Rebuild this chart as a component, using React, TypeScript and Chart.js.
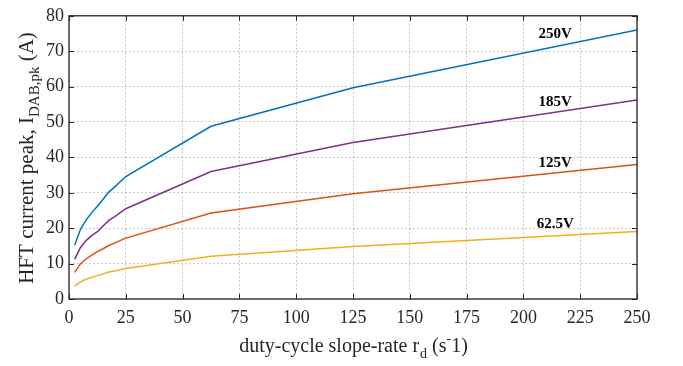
import React, { useEffect, useRef } from "react";
import { Chart, registerables } from "chart.js";

Chart.register(...registerables);

const slopeRates = [2.5, 5, 7.5, 10, 12.5, 15, 17.5, 20, 25, 62.5, 125, 250];
const peak250V = [15.2, 19.6, 22.3, 24.4, 26.2, 28.2, 30.2, 31.6, 34.6, 48.8, 59.7, 76.0];
const peak185V = [11.2, 14.5, 16.5, 17.9, 19.0, 20.6, 22.2, 23.2, 25.5, 36.0, 44.2, 56.2];
const peak125V = [7.5, 9.9, 11.3, 12.4, 13.4, 14.2, 15.1, 15.8, 17.2, 24.3, 29.7, 38.0];
const peak62V = [3.7, 4.8, 5.6, 6.1, 6.6, 7.1, 7.6, 7.9, 8.6, 12.1, 14.8, 19.1];

const seriesNames = ["250V", "185V", "125V", "62.5V"];
const seriesColors = ["#0072BD", "#7E2F8E", "#D95319", "#EDB120"];
const labelX = [214, 214, 214, 214];
const labelY = [74.8, 55.7, 38.5, 21.1];

const FONT = "'Liberation Serif', 'Times New Roman', serif";
const AXIS_COLOR = "#262626";

const decorPlugin = {
  id: "decor",
  afterDraw(chart: any) {
    const { ctx, chartArea } = chart;
    const xs = chart.scales.x;
    const ys = chart.scales.y;
    const { left, right, top, bottom } = chartArea;
    ctx.save();
    // box
    ctx.strokeStyle = AXIS_COLOR;
    ctx.lineWidth = 1.3;
    ctx.strokeRect(left, top, right - left, bottom - top);
    // inward ticks
    ctx.lineWidth = 1;
    const tl = 5;
    for (let v = 0; v <= 250; v += 25) {
      const px = Math.round(xs.getPixelForValue(v)) + 0.5;
      ctx.beginPath();
      ctx.moveTo(px, bottom);
      ctx.lineTo(px, bottom - tl);
      ctx.moveTo(px, top);
      ctx.lineTo(px, top + tl);
      ctx.stroke();
    }
    for (let v = 0; v <= 80; v += 10) {
      const py = Math.round(ys.getPixelForValue(v)) + 0.5;
      ctx.beginPath();
      ctx.moveTo(left, py);
      ctx.lineTo(left + tl, py);
      ctx.moveTo(right, py);
      ctx.lineTo(right - tl, py);
      ctx.stroke();
    }
    // series labels
    ctx.fillStyle = "#000";
    ctx.font = `bold 15px ${FONT}`;
    ctx.textAlign = "center";
    ctx.textBaseline = "middle";
    seriesNames.forEach((n, i) => {
      ctx.fillText(n, xs.getPixelForValue(labelX[i]), ys.getPixelForValue(labelY[i]));
    });
    // x title
    ctx.fillStyle = AXIS_COLOR;
    ctx.textAlign = "left";
    ctx.textBaseline = "alphabetic";
    const xMain = "duty-cycle slope-rate r";
    const big = `20px ${FONT}`;
    const small = `14px ${FONT}`;
    ctx.font = big;
    const w1 = ctx.measureText(xMain).width;
    ctx.font = small;
    const wSub = ctx.measureText("d").width;
    ctx.font = big;
    const w2 = ctx.measureText(" (s").width;
    ctx.font = small;
    const wSup = ctx.measureText("-").width;
    ctx.font = big;
    const w3 = ctx.measureText("1)").width;
    const total = w1 + wSub + w2 + wSup + w3;
    const cx = (left + right) / 2;
    let x0 = cx - total / 2;
    const base = 352;
    ctx.font = big;
    ctx.fillText(xMain, x0, base);
    x0 += w1;
    ctx.font = small;
    ctx.fillText("d", x0 + 1, base + 6);
    x0 += wSub + 1;
    ctx.font = big;
    ctx.fillText(" (s", x0, base);
    x0 += w2;
    ctx.font = small;
    ctx.fillText("-", x0, base - 9);
    x0 += wSup;
    ctx.font = big;
    ctx.fillText("1)", x0, base);
    // y title
    ctx.save();
    const bigY = `21px ${FONT}`;
    const smallY = `15px ${FONT}`;
    ctx.translate(33, 158);
    ctx.rotate(-Math.PI / 2);
    const yMain = "HFT current peak, I";
    const ySub = "DAB,pk";
    const yEnd = " (A)";
    ctx.font = bigY;
    const a1 = ctx.measureText(yMain).width;
    ctx.font = smallY;
    const a2 = ctx.measureText(ySub).width;
    ctx.font = bigY;
    const a3 = ctx.measureText(yEnd).width;
    let y0 = -(a1 + a2 + a3) / 2;
    ctx.font = bigY;
    ctx.fillText(yMain, y0, 0);
    y0 += a1;
    ctx.font = smallY;
    ctx.fillText(ySub, y0, 6);
    y0 += a2;
    ctx.font = bigY;
    ctx.fillText(yEnd, y0, 0);
    ctx.restore();
    ctx.restore();
  },
};

export default function App() {
  const ref = useRef<HTMLCanvasElement>(null);
  useEffect(() => {
    document.body.style.margin = "0";
    const seriesData = [peak250V, peak185V, peak125V, peak62V];
    const chart = new Chart(ref.current!, {
      type: "line",
      data: {
        datasets: seriesData.map((arr, i) => ({
          label: seriesNames[i],
          data: slopeRates.map((x, j) => ({ x, y: arr[j] })),
          borderColor: seriesColors[i],
          borderWidth: 1.5,
          pointRadius: 0,
          tension: 0,
          fill: false,
        })),
      },
      options: {
        animation: false,
        responsive: false,
        layout: { padding: { left: 0, right: 46, top: 10, bottom: 0 } },
        plugins: { legend: { display: false }, tooltip: { enabled: false } },
        scales: {
          x: {
            type: "linear",
            min: 0,
            max: 250,
            border: { display: false, dash: [2, 2] },
            grid: { color: "rgba(0,0,0,0.2)", drawTicks: false },
            ticks: {
              stepSize: 25,
              padding: 8,
              color: AXIS_COLOR,
              font: { family: FONT, size: 18 },
              maxRotation: 0,
            },
            afterFit(scale: any) {
              scale.height = 67;
            },
          },
          y: {
            type: "linear",
            min: 0,
            max: 80,
            border: { display: false, dash: [2, 2] },
            grid: { color: "rgba(0,0,0,0.2)", drawTicks: false },
            ticks: {
              stepSize: 10,
              padding: 5,
              color: AXIS_COLOR,
              font: { family: FONT, size: 18 },
            },
            afterFit(scale: any) {
              scale.width = 69;
            },
          },
        },
      },
      plugins: [decorPlugin],
    } as any);
    return () => chart.destroy();
  }, []);
  return <canvas ref={ref} width={683} height={366} style={{ display: "block" }} />;
}
